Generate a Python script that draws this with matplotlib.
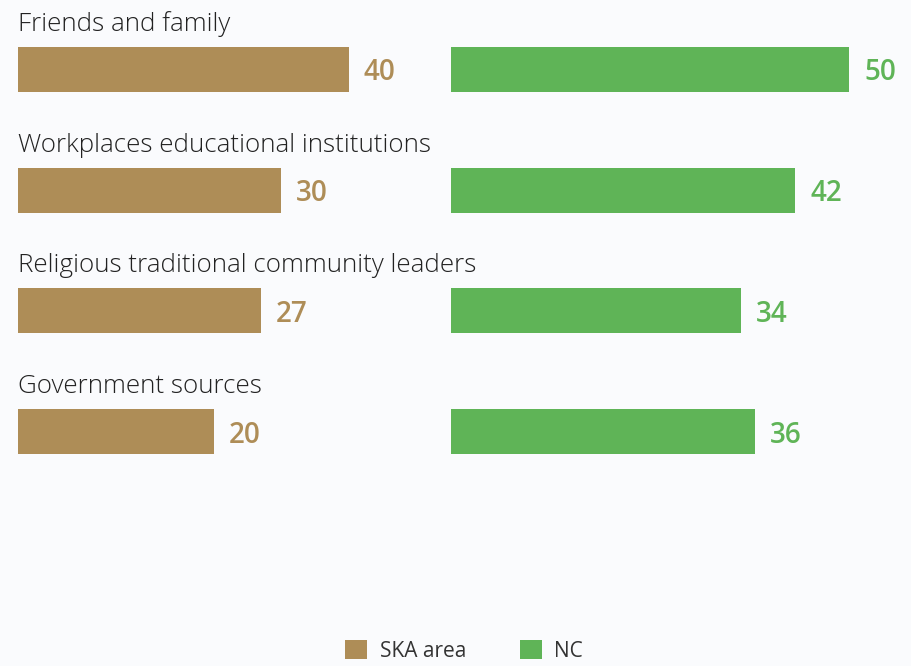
import matplotlib
matplotlib.use("Agg")
import matplotlib.pyplot as plt
from matplotlib.patches import Patch

# Sources of information, share of respondents (%)
categories = [
    "Friends and family",
    "Workplaces educational institutions",
    "Religious traditional community leaders",
    "Government sources",
]
ska_area = [40, 30, 27, 20]
nc = [50, 42, 34, 36]
series_names = ["SKA area", "NC"]

BROWN = "#AE8D57"
GREEN = "#5FB457"
BG = "#FAFBFD"
TEXT = "#222222"

plt.rcParams["font.family"] = ["Open Sans", "DejaVu Sans"]

W, H = 912, 666
fig = plt.figure(figsize=(W / 100, H / 100), dpi=100, facecolor=BG)

PX_PER_UNIT = 6.75   # horizontal scale shared by both panels
PAD = 9              # bars start a little before zero
SPACING = 120.67     # pixels between rows
FIRST = 69.5         # centre of first row, pixels from top

ylim = ((H - FIRST) / SPACING, -FIRST / SPACING)


def make_panel(left_px, width_px):
    ax = fig.add_axes([left_px / W, 0, width_px / W, 1])
    ax.set_xlim(-PAD, -PAD + width_px / PX_PER_UNIT)
    ax.set_ylim(*ylim)
    ax.set_axis_off()
    ax.patch.set_alpha(0)
    return ax


ax_l = make_panel(18, 425)
ax_r = make_panel(451, 461)

bar_h = 45 / SPACING
ypos = list(range(len(categories)))

for ax, vals, color in [(ax_l, ska_area, BROWN), (ax_r, nc, GREEN)]:
    ax.barh(ypos, [v + PAD for v in vals], left=-PAD, height=bar_h, color=color)
    for y, v in zip(ypos, vals):
        ax.text(v + 15 / PX_PER_UNIT, y, f"{v}", color=color, fontsize=20,
                fontweight="semibold", va="center_baseline", ha="left")

for y, cat in zip(ypos, categories):
    ax_l.text(-PAD, y - bar_h / 2 - 16 / SPACING, cat, color=TEXT, fontsize=18.7,
              fontweight=300, va="baseline", ha="left", clip_on=False)

handles = [Patch(facecolor=BROWN), Patch(facecolor=GREEN)]
fig.legend(handles, series_names, loc="lower center", bbox_to_anchor=(0.509, -0.022),
           ncol=2, frameon=False, fontsize=15, handlelength=1.05, handleheight=1.05,
           handletextpad=0.6, columnspacing=2.6, labelcolor="#333333")

fig.savefig("out.png", dpi=100, facecolor=BG)
